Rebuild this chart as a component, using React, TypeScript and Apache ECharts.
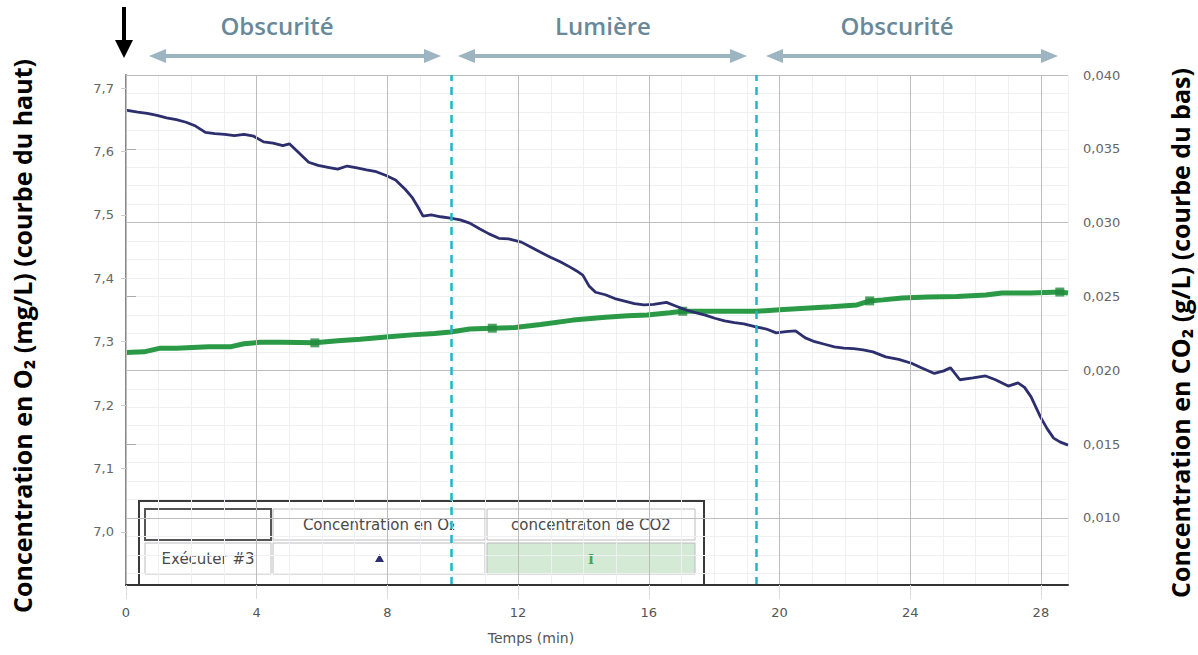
import React, { useEffect, useRef } from "react";
import * as echarts from "echarts";

// ---------- data ----------
const xTickValues = [0, 4, 8, 12, 16, 20, 24, 28];
const o2TickValues = [7.0, 7.1, 7.2, 7.3, 7.4, 7.5, 7.6, 7.7];
const co2TickValues = [0.01, 0.015, 0.02, 0.025, 0.03, 0.035, 0.04];
const co2GridValues = [0.01, 0.015, 0.02, 0.025, 0.03, 0.035];

const o2Time = [0, 0.36, 0.65, 0.95, 1.24, 1.54, 1.84, 2.13, 2.43, 2.72, 3.02, 3.32, 3.61, 3.91, 4.21, 4.5, 4.8, 5.0, 5.29, 5.59, 5.88, 6.18, 6.48, 6.77, 7.07, 7.36, 7.66, 7.96, 8.25, 8.55, 8.75, 8.94, 9.09, 9.34, 9.63, 9.93, 10.23, 10.52, 10.82, 11.11, 11.41, 11.71, 12.1, 12.4, 12.69, 12.99, 13.29, 13.58, 13.78, 13.98, 14.17, 14.37, 14.67, 14.96, 15.26, 15.56, 15.85, 16.15, 16.54, 16.84, 17.14, 17.43, 17.73, 18.02, 18.32, 18.62, 18.91, 19.31, 19.6, 19.9, 20.19, 20.49, 20.79, 21.08, 21.38, 21.68, 21.97, 22.27, 22.56, 22.86, 23.25, 23.65, 24.04, 24.34, 24.74, 25.03, 25.23, 25.52, 25.92, 26.31, 26.61, 27.0, 27.3, 27.5, 27.7, 27.99, 28.19, 28.39, 28.58, 28.83];
const o2Value = [7.665, 7.662, 7.66, 7.657, 7.653, 7.65, 7.646, 7.64, 7.63, 7.628, 7.627, 7.625, 7.627, 7.624, 7.615, 7.613, 7.609, 7.612, 7.598, 7.583, 7.578, 7.575, 7.572, 7.577, 7.574, 7.571, 7.568, 7.562, 7.555, 7.54, 7.528, 7.512, 7.498, 7.5, 7.497, 7.495, 7.492, 7.487, 7.478, 7.47, 7.463, 7.462, 7.457, 7.449, 7.441, 7.433, 7.426, 7.418, 7.412, 7.405, 7.388, 7.378, 7.374, 7.368, 7.364, 7.36, 7.358, 7.359, 7.362, 7.356, 7.35, 7.346, 7.342, 7.337, 7.333, 7.33, 7.328, 7.323, 7.32, 7.314, 7.316, 7.317, 7.306, 7.3, 7.296, 7.292, 7.29, 7.289, 7.287, 7.284, 7.276, 7.272, 7.266, 7.259, 7.25, 7.254, 7.259, 7.24, 7.243, 7.246, 7.24, 7.23, 7.235, 7.228, 7.213, 7.181, 7.163, 7.148, 7.142, 7.137];

const co2Time = [0, 0.55, 1.05, 1.54, 2.03, 2.53, 3.22, 3.61, 4.11, 4.8, 5.78, 6.48, 7.17, 7.96, 8.75, 9.44, 9.93, 10.52, 11.21, 11.9, 12.69, 13.68, 14.67, 15.36, 15.95, 16.64, 17.04, 17.83, 18.81, 19.31, 20.0, 20.79, 21.58, 22.37, 22.76, 23.16, 23.75, 24.54, 25.43, 26.31, 26.81, 27.7, 28.58, 28.83];
const co2Value = [0.0212, 0.02125, 0.0215, 0.0215, 0.02155, 0.0216, 0.0216, 0.0218, 0.0219, 0.0219, 0.02186, 0.022, 0.0221, 0.02226, 0.0224, 0.0225, 0.0226, 0.0228, 0.02285, 0.0229, 0.0231, 0.0234, 0.0236, 0.0237, 0.02375, 0.0239, 0.024, 0.024, 0.024, 0.024, 0.0241, 0.0242, 0.0243, 0.02443, 0.0247, 0.02477, 0.0249, 0.02497, 0.025, 0.0251, 0.02524, 0.02524, 0.0253, 0.02524];
const co2MarkerTimes = [5.78, 11.21, 17.04, 22.76, 28.58];

const phaseBoundaries = [9.95, 19.3];
const phaseLabels = ["Obscurité", "Lumière", "Obscurité"];
const legendHeaders = ["Concentration en O\u2082", "concentraton de CO2"];
const legendRunLabel = "Exécuter #3";
const leftTitle = "Concentration en O\u2082 (mg/L) (courbe du haut)";
const rightTitle = "Concentration en CO\u2082 (g/L) (courbe du bas)";
const xTitle = "Temps (min)";

// ---------- ranges ----------
const X_MIN = 0;
const X_MAX = 28.83;
const O2_MIN = 6.9164;
const O2_MAX = 7.7205;
const CO2_MIN = 0.00546;
const CO2_MAX = 0.04;

const comma = (v: number, d: number) => v.toFixed(d).replace(".", ",");

export default function App() {
  const ref = useRef<HTMLDivElement>(null);

  useEffect(() => {
    if (!ref.current) return;
    const chart = echarts.init(ref.current, null, { renderer: "svg" });

    const o2Data = o2Time.map((t, i) => [t, o2Value[i]]);
    const co2Data = co2Time.map((t, i) => [t, co2Value[i]]);
    const co2Markers = co2Time
      .map((t, i) => [t, co2Value[i]])
      .filter((p) => co2MarkerTimes.includes(p[0]));

    const labelFont = '"DejaVu Sans", sans-serif';
    const headerColor = "#69889a";
    const arrowColor = "#9db5c1";
    const titleFont = 'bold 25px "Open Sans", "DejaVu Sans", sans-serif';

    const arrows = [
      [149, 441],
      [458, 747],
      [766, 1058],
    ];
    const headerX = [277, 603, 897];
    const ay = 56;

    const center = { align: "center", verticalAlign: "middle", textAlign: "center", textVerticalAlign: "middle" };

    const graphics: any[] = [];
    arrows.forEach(([x1, x2], i) => {
      graphics.push({
        type: "line",
        shape: { x1: x1 + 12, y1: ay, x2: x2 - 12, y2: ay },
        style: { stroke: arrowColor, lineWidth: 4 },
      });
      graphics.push({
        type: "polygon",
        shape: { points: [[x1, ay], [x1 + 17, ay - 7], [x1 + 17, ay + 7]] },
        style: { fill: arrowColor },
      });
      graphics.push({
        type: "polygon",
        shape: { points: [[x2, ay], [x2 - 17, ay - 7], [x2 - 17, ay + 7]] },
        style: { fill: arrowColor },
      });
      graphics.push({
        type: "text",
        x: headerX[i],
        y: 25,
        style: {
          text: phaseLabels[i],
          font: '600 24px "Open Sans", sans-serif',
          fill: headerColor,
          ...center,
        },
      });
    });

    // black down arrow
    graphics.push({
      type: "rect",
      shape: { x: 122, y: 7, width: 4, height: 36 },
      style: { fill: "#000" },
    });
    graphics.push({
      type: "polygon",
      shape: { points: [[115, 40], [133, 40], [124, 58]] },
      style: { fill: "#000" },
    });

    // axis titles
    graphics.push({
      type: "text",
      x: 22,
      y: 336,
      rotation: Math.PI / 2,
      style: { text: leftTitle, font: titleFont, fill: "#000", ...center },
    });
    graphics.push({
      type: "text",
      x: 1180,
      y: 333,
      rotation: Math.PI / 2,
      style: { text: rightTitle, font: titleFont, fill: "#000", ...center },
    });
    graphics.push({
      type: "text",
      x: 531,
      y: 638,
      style: { text: xTitle, font: '14px "DejaVu Sans", sans-serif', fill: "#555", ...center },
    });

    // legend table
    const cellFont = '15px "DejaVu Sans", sans-serif';
    graphics.push({
      type: "rect",
      shape: { x: 139, y: 501, width: 565, height: 84 },
      style: { fill: "#fff", stroke: "#3a3a3a", lineWidth: 2 },
    });
    const cols = [
      [145, 126],
      [273, 212],
      [487, 208],
    ];
    const rows = [509, 543];
    rows.forEach((ry, r) => {
      cols.forEach(([cx, cw], c) => {
        const isCorner = r === 0 && c === 0;
        const isGreen = r === 1 && c === 2;
        graphics.push({
          type: "rect",
          shape: { x: cx, y: ry, width: cw, height: 31 },
          style: {
            fill: isGreen ? "#d5ead5" : "#fff",
            stroke: isCorner ? "#555" : "#bcbcbc",
            lineWidth: isCorner ? 2 : 1,
          },
        });
      });
    });
    const textStyle = (text: string, color = "#4a4a4a") => ({ text, font: cellFont, fill: color, ...center });
    graphics.push({ type: "text", x: 379, y: 525, style: textStyle(legendHeaders[0]) });
    graphics.push({ type: "text", x: 591, y: 525, style: textStyle(legendHeaders[1]) });
    graphics.push({ type: "text", x: 208, y: 559, style: textStyle(legendRunLabel) });
    graphics.push({
      type: "polygon",
      shape: { points: [[375, 562], [384, 562], [379.5, 554]] },
      style: { fill: "#2d2e6e" },
    });
    graphics.push({
      type: "text",
      x: 591,
      y: 559,
      style: { text: "I", font: 'bold 13px "DejaVu Serif", serif', fill: "#3fa55a", ...center },
    });

    chart.setOption({
      animation: false,
      backgroundColor: "#ffffff",
      grid: { left: 126, right: 130, top: 75, bottom: 70, containLabel: false },
      xAxis: [
        {
          type: "value",
          min: X_MIN,
          max: X_MAX,
          interval: 4,
          axisLine: { show: true, onZero: false, lineStyle: { color: "#333", width: 2 } },
          axisTick: { show: true, length: 14, lineStyle: { color: "#dcdcdc" }, customValues: xTickValues },
          axisLabel: {
            customValues: xTickValues,
            margin: 21,
            color: "#555",
            fontSize: 13,
            fontFamily: labelFont,
          },
          splitLine: { show: true, lineStyle: { color: "#bdbdbd", width: 1 } },
          z: 5,
        },
        {
          type: "value",
          min: X_MIN,
          max: X_MAX,
          interval: 1,
          position: "top",
          axisLine: { show: false },
          axisTick: { show: false },
          axisLabel: { show: false },
          splitLine: { show: true, lineStyle: { color: "#eef0f3", width: 1 } },
          z: 0,
        },
      ],
      yAxis: [
        {
          type: "value",
          min: O2_MIN,
          max: O2_MAX,
          position: "left",
          axisLine: { show: true, lineStyle: { color: "#c9cdd2", width: 1 } },
          axisTick: { show: true, length: 5, lineStyle: { color: "#cccccc" }, customValues: o2TickValues },
          axisLabel: {
            customValues: o2TickValues,
            formatter: (v: number) => comma(v, 1),
            margin: 12,
            color: "#666",
            fontSize: 13,
            fontFamily: labelFont,
          },
          splitLine: { show: false },
        },
        {
          type: "value",
          min: CO2_MIN,
          max: CO2_MAX,
          position: "right",
          axisLine: { show: true, lineStyle: { color: "#888", width: 2 } },
          axisTick: { show: true, length: 10, lineStyle: { color: "#aaaaaa" }, customValues: co2GridValues },
          axisLabel: {
            customValues: co2TickValues,
            formatter: (v: number) => comma(v, 3),
            margin: 15,
            color: "#666",
            fontSize: 13,
            fontFamily: labelFont,
          },
          splitLine: { show: false },
        },
        {
          type: "value",
          min: 0,
          max: (CO2_MAX - CO2_MIN) * 1000,
          inverse: true,
          interval: 1.25,
          position: "left",
          axisLine: { show: false },
          axisTick: { show: false },
          axisLabel: { show: false },
          splitLine: { show: true, lineStyle: { color: "#eef0f3", width: 1 } },
          z: 0,
        },
      ],
      series: [
        {
          name: "Concentration en O2",
          type: "line",
          xAxisIndex: 0,
          yAxisIndex: 0,
          data: o2Data,
          showSymbol: false,
          symbol: "none",
          lineStyle: { color: "#2d2e6e", width: 2.8 },
          z: 4,
          markLine: {
            silent: true,
            symbol: ["none", "none"],
            label: { show: false },
            lineStyle: { color: "#22b7c8", type: [8, 6], width: 2.5 },
            data: phaseBoundaries.map((b) => ({ xAxis: b })),
          },
        },
        {
          name: "concentraton de CO2",
          type: "line",
          xAxisIndex: 0,
          yAxisIndex: 1,
          data: co2Data,
          showSymbol: false,
          symbol: "none",
          lineStyle: { color: "#2b9a47", width: 5 },
          z: 3,
          markLine: {
            silent: true,
            z: 1,
            symbol: ["none", "none"],
            label: { show: false },
            lineStyle: { color: "#bdbdbd", type: "solid", width: 1 },
            data: co2GridValues.map((v) => ({ yAxis: v })),
          },
        },
        {
          name: "CO2 markers",
          type: "scatter",
          xAxisIndex: 0,
          yAxisIndex: 1,
          data: co2Markers,
          symbol: "rect",
          symbolSize: 9,
          itemStyle: { color: "#23883c" },
          z: 3,
        },
      ],
      graphic: graphics,
    });

    return () => chart.dispose();
  }, []);

  return <div ref={ref} style={{ width: 1198, height: 655, position: "absolute", left: 0, top: 0 }} />;
}
